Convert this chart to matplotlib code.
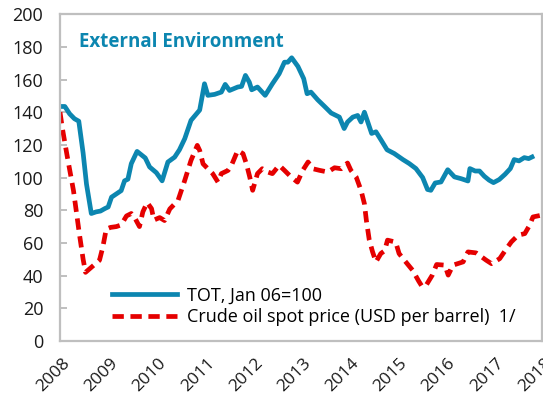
import numpy as np
import matplotlib
matplotlib.use('Agg')
import matplotlib.pyplot as plt
import matplotlib.transforms as mtransforms

plt.rcParams['font.family'] = ['Open Sans', 'DejaVu Sans']

# Terms of trade index (Jan 06 = 100), decimal-year positions
tot_x = [2008.00, 2008.10, 2008.20, 2008.30, 2008.39, 2008.48, 2008.55, 2008.65, 2008.75, 2008.84,
         2008.93, 2009.00, 2009.07, 2009.17, 2009.27, 2009.34, 2009.41, 2009.48, 2009.60, 2009.77,
         2009.86, 2010.00, 2010.12, 2010.24, 2010.38, 2010.48, 2010.59, 2010.72, 2010.90, 2011.00,
         2011.07, 2011.21, 2011.35, 2011.43, 2011.52, 2011.69, 2011.77, 2011.85, 2011.93, 2011.98,
         2012.10, 2012.26, 2012.41, 2012.55, 2012.66, 2012.73, 2012.81, 2012.94, 2013.06, 2013.13,
         2013.21, 2013.35, 2013.49, 2013.63, 2013.80, 2013.90, 2013.97, 2014.08, 2014.18, 2014.25,
         2014.32, 2014.39, 2014.47, 2014.56, 2014.67, 2014.79, 2014.94, 2015.12, 2015.25, 2015.39,
         2015.53, 2015.63, 2015.70, 2015.79, 2015.91, 2016.05, 2016.19, 2016.33, 2016.47, 2016.51,
         2016.62, 2016.71, 2016.81, 2016.91, 2017.00, 2017.12, 2017.24, 2017.35, 2017.43, 2017.53,
         2017.64, 2017.73, 2017.80]
tot_y = [143.5, 143.5, 139, 136, 134.5, 115, 96, 78, 79, 79.5,
         81, 82, 88, 90, 92, 98, 99, 108.5, 116, 112,
         106.5, 103, 98, 109.5, 112.5, 117, 123.8, 135, 141.3, 157.4,
         150.3, 150.9, 152.3, 157, 153.3, 155.4, 155.8, 162.5, 158.4, 153.7,
         155.4, 150.3, 157.4, 163.5, 170.6, 170.6, 173.3, 168, 160.5, 151.3,
         152.3, 147.6, 143.6, 139.5, 137, 130, 134, 137, 138, 134,
         140, 134, 127, 128, 122.8, 117, 114.7, 111, 108.6, 105.5,
         100, 92.7, 92.2, 96.7, 97.3, 104.8, 100.4, 99.3, 97.9, 105.5,
         104, 104, 100.8, 98.4, 96.9, 98.8, 102, 105.5, 111, 110.2,
         112.2, 111.6, 112.6]

# Crude oil spot price, USD per barrel
oil_x = [2008.00, 2008.05, 2008.15, 2008.28, 2008.40, 2008.48, 2008.53, 2008.62, 2008.82, 2008.89,
         2008.96, 2009.05, 2009.17, 2009.27, 2009.38, 2009.48, 2009.55, 2009.65, 2009.72, 2009.81,
         2009.90, 2009.95, 2010.07, 2010.17, 2010.28, 2010.45, 2010.59, 2010.72, 2010.85, 2010.90,
         2010.97, 2011.07, 2011.17, 2011.28, 2011.35, 2011.49, 2011.56, 2011.69, 2011.80, 2011.87,
         2011.94, 2012.00, 2012.10, 2012.20, 2012.31, 2012.41, 2012.55, 2012.66, 2012.80, 2012.93,
         2013.04, 2013.15, 2013.25, 2013.39, 2013.56, 2013.70, 2013.84, 2013.97, 2014.04, 2014.15,
         2014.25, 2014.32, 2014.36, 2014.42, 2014.49, 2014.56, 2014.66, 2014.74, 2014.80, 2014.97,
         2015.04, 2015.15, 2015.32, 2015.45, 2015.52, 2015.60, 2015.73, 2015.82, 2015.99, 2016.06,
         2016.16, 2016.37, 2016.47, 2016.64, 2016.85, 2016.96, 2017.13, 2017.27, 2017.37, 2017.51,
         2017.65, 2017.75, 2017.82, 2018.00]
oil_y = [140, 130, 113, 92, 66, 50, 42, 44.3, 49.4, 57.6,
         68.5, 69.5, 70, 71, 76.5, 78, 75.5, 70, 79, 84.7,
         81, 74, 75.5, 73.7, 80.8, 86, 98.3, 110.5, 119.7, 116.6,
         108.4, 105.4, 102.4, 97.2, 102.4, 104.4, 107.5, 116.6, 114.6, 108.4,
         100.3, 92.2, 102.4, 105.4, 103.4, 102.4, 107.5, 104.4, 100.3, 97.2,
         104.4, 109.5, 105.4, 104.4, 103.4, 106, 105.4, 108.9, 104.4, 100.3,
         92.2, 84, 74, 62, 54.5, 48.4, 53.5, 55.2, 61.7, 60.5,
         53.5, 49.4, 43.3, 36.5, 33.2, 34, 40.3, 46.8, 46.4, 40.3,
         46.4, 48.4, 54.5, 53.9, 49.4, 47.3, 50.4, 56.5, 60.6, 64.7,
         65.7, 70.8, 75.9, 77]

years = list(range(2008, 2019))
yticks = list(range(0, 201, 20))

TEAL = '#0C86B0'
RED = '#E50000'
GRAY = '#BFBFBF'

fig = plt.figure(figsize=(5.43, 4.04), dpi=100)
ax = fig.add_axes([0.1105, 0.156, 0.887, 0.809])

ax.plot(tot_x, tot_y, color=TEAL, lw=3.4, solid_joinstyle='round',
        label='TOT, Jan 06=100')
ax.plot(oil_x, oil_y, color=RED, lw=3.4, dashes=(2.4, 1.4),
        dash_capstyle='butt', label='Crude oil spot price (USD per barrel)  1/')

ax.set_xlim(2008, 2018)
ax.set_ylim(0, 200)
ax.set_yticks(yticks)
ax.set_xticks(years)

for s in ax.spines.values():
    s.set_color(GRAY)
    s.set_linewidth(1.6)

ax.tick_params(axis='y', direction='in', length=5, width=1.4, color=GRAY,
               labelsize=13, pad=12, labelcolor='#1a1a1a')
ax.tick_params(axis='x', length=0, labelsize=12.5, pad=8, labelcolor='#1a1a1a')

offset = mtransforms.ScaledTranslation(1.5 / 72, -2 / 72, fig.dpi_scale_trans)
for lab in ax.get_xticklabels():
    lab.set_rotation(45)
    lab.set_ha('right')
    lab.set_va('top')
    lab.set_rotation_mode('anchor')
    lab.set_transform(lab.get_transform() + offset)

ax.text(0.04, 0.915, 'External Environment', transform=ax.transAxes,
        color=TEAL, fontsize=13.5, fontweight='bold', va='center', ha='left')

ax.legend(loc='lower left', bbox_to_anchor=(0.108, 0.045), frameon=False,
          fontsize=13, handlelength=3.6, borderpad=0, borderaxespad=0,
          labelspacing=0.2, handletextpad=0.55)

fig.savefig('out.png', dpi=100)
